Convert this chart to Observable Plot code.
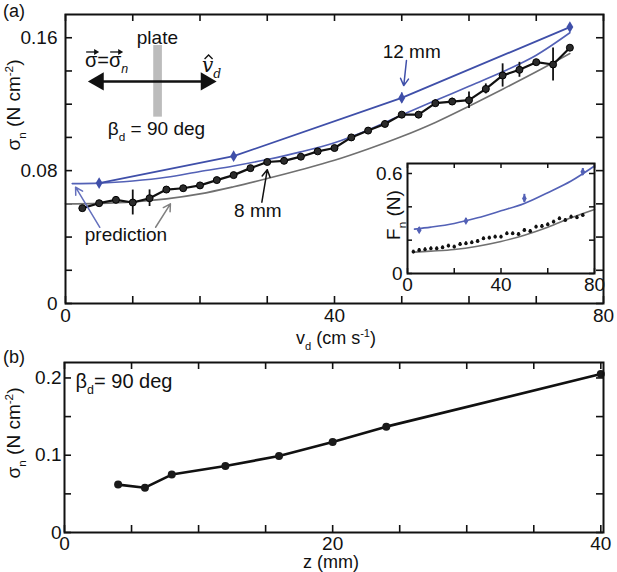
<!DOCTYPE html>
<html><head><meta charset="utf-8">
<script src="https://cdn.jsdelivr.net/npm/d3@7"></script>
<script src="https://cdn.jsdelivr.net/npm/@observablehq/plot@0.6"></script>
<style>
html,body{margin:0;padding:0;background:#fff;}
#fig{position:relative;width:617px;height:572px;overflow:hidden;background:#fff;}
#fig svg{position:absolute;overflow:visible;}
</style></head><body><div id="fig"></div>
<script>
// ---------------- Panel (a): sigma_n vs drag speed ----------------
const v8mm = [2.5,5,7.5,10,12.5,15,17.5,20,22.5,25,27.5,30,32.5,35,37.5,40,42.5,45,47.5,50,52.5,55,57.5,60,62.5,65,67.5,70,72.5,75];
const sigma8mm = [0.0574,0.0604,0.0624,0.0608,0.0634,0.0686,0.0694,0.0711,0.0743,0.0773,0.0815,0.0852,0.0859,0.0884,0.0916,0.0936,0.1000,0.1041,0.1081,0.1137,0.1137,0.1206,0.1216,0.1224,0.1292,0.1373,0.1407,0.1453,0.1439,0.1540];
const err8mm = [0.001,0.001,0.002,0.0075,0.005,0.001,0.001,0.001,0.001,0.001,0.001,0.001,0.001,0.001,0.001,0.001,0.001,0.001,0.001,0.001,0.0015,0.002,0.002,0.005,0.003,0.007,0.0045,0.0015,0.01,0.001];
const v12mm = [5,25,50,75];
const sigma12mm = [0.0725,0.0887,0.1238,0.1664];
const err12mm = [0.0015,0.0012,0.003,0.002];
const vPred12 = [1,5,10,15,20,25,30,35,40,45,50,55,60,65,70,75];
const pred12mm = [0.0722,0.0725,0.0738,0.0760,0.0795,0.0828,0.0867,0.0913,0.0968,0.1045,0.1135,0.1222,0.1308,0.1395,0.1495,0.1630];
const vPred8 = [0,5,10,15,20,25,30,35,40,45,50,55,60,65,70,75];
const pred8mm = [0.0600,0.0603,0.0612,0.0630,0.0660,0.0703,0.0752,0.0805,0.0862,0.0930,0.1005,0.1090,0.1188,0.1290,0.1395,0.1505];
const xTicksA = [0,10,20,30,40,50,60,70,80];
const xLabelsA = [0,40,80];
const yTicksA = [0,0.02,0.04,0.06,0.08,0.1,0.12,0.14,0.16];
const yLabelsA = [0,0.08,0.16];

// ---------------- Inset: F_n vs drag speed ----------------
const vInset8 = [2.5,5,7.5,10,12.5,15,17.5,20,22.5,25,27.5,30,32.5,35,37.5,40,42.5,45,47.5,50,52.5,55,57.5,60,62.5,65,67.5,70,72.5,75];
const fInset8 = [0.13,0.14,0.144,0.15,0.15,0.156,0.166,0.16,0.176,0.18,0.186,0.194,0.21,0.214,0.22,0.22,0.24,0.24,0.236,0.26,0.254,0.28,0.284,0.294,0.31,0.33,0.32,0.34,0.336,0.35];
const vInset12 = [5,25,50,75];
const fInset12 = [0.26,0.315,0.45,0.61];
const errInset12 = [0.015,0.015,0.025,0.02];
const vInsetPred = [3,10,20,30,40,50,60,70,80];
const fInsetPred12 = [0.266,0.278,0.300,0.334,0.376,0.420,0.485,0.555,0.645];
const fInsetPred8 = [0.128,0.134,0.144,0.164,0.192,0.230,0.278,0.334,0.384];
const xTicksI = [0,20,40,60,80];
const xLabelsI = [0,40,80];
const yTicksI = [0,0.2,0.4,0.6];
const yLabelsI = [0,0.6];

// ---------------- Panel (b): sigma_n vs depth ----------------
const zDepth = [4,6,8,12,16,20,24,40];
const sigmaDepth = [0.062,0.058,0.075,0.086,0.099,0.117,0.137,0.205];
const xTicksB = [0,5,10,15,20,25,30,35,40];
const xLabelsB = [0,20,40];
const yTicksB = [0,0.05,0.1,0.15,0.2];
const yLabelsB = [0,0.1,0.2];

// ---------------- annotations (data units) ----------------
const plateBar = [{x1:13.12, x2:14.41, y1:0.1122, y2:0.1553}];
const dirLine = [{x1:4.9, x2:20.9, y:0.1337}];
const dirHeadL = [{x:4.9, y:0.1337}];
const dirHeadR = [{x:20.9, y:0.1337}];
const arrow12 = [{x1:50.7, y1:0.1463, x2:50.3, y2:0.1312}];
const arrow8 = [{x1:29.2, y1:0.0610, x2:30.0, y2:0.0805}];
const arrowPredBlue = [{x1:5.1, y1:0.0459, x2:1.5, y2:0.0700}];
const arrowPredGray = [{x1:13.4, y1:0.0459, x2:15.6, y2:0.0600}];

const FONT = "'Liberation Sans', Arial, Helvetica, sans-serif";
const FS = 19;
const INK = "#111";
const BLUE = "#3f4fa9";
const BLUE2 = "#5361b6";
const GRAY = "#707070";
const fmt = d => d === 0 ? "0" : String(d);

const rows8 = v8mm.map((v,i) => ({v, s: sigma8mm[i], e: err8mm[i]}));
const rows12 = v12mm.map((v,i) => ({v, s: sigma12mm[i], e: err12mm[i]}));
const rowsP12 = vPred12.map((v,i) => ({v, s: pred12mm[i]}));
const rowsP8 = vPred8.map((v,i) => ({v, s: pred8mm[i]}));
const rowsI8 = vInset8.map((v,i) => ({v, f: fInset8[i]}));
const rowsI12 = vInset12.map((v,i) => ({v, f: fInset12[i], e: errInset12[i]}));
const rowsIP12 = vInsetPred.map((v,i) => ({v, f: fInsetPred12[i]}));
const rowsIP8 = vInsetPred.map((v,i) => ({v, f: fInsetPred8[i]}));
const rowsB = zDepth.map((z,i) => ({z, s: sigmaDepth[i]}));

function inTicks(xt, yt, W, H, ml, mr, mt, mb, len, sw) {
  const pw = W - ml - mr, ph = H - mt - mb;
  const o = {stroke: INK, strokeWidth: sw};
  return [
    Plot.tickX(xt, {x: d => d, insetTop: ph - len, ...o}),
    Plot.tickX(xt, {x: d => d, insetBottom: ph - len, ...o}),
    Plot.tickY(yt, {y: d => d, insetRight: pw - len, ...o}),
    Plot.tickY(yt, {y: d => d, insetLeft: pw - len, ...o})
  ];
}

function rich(svg, px, py, parts, o = {}) {
  const size = o.size || FS;
  const t = d3.select(svg).append("text")
    .attr("font-family", o.family || FONT).attr("font-size", size)
    .attr("fill", o.fill || INK)
    .attr("text-anchor", o.anchor || "start")
    .attr("transform", `translate(${px},${py})` + (o.rotate ? ` rotate(${o.rotate})` : ""));
  let shift = 0;
  for (const p of parts) {
    const s = p.sub ? size * 0.32 : p.sup ? -size * 0.38 : 0;
    const ts = t.append("tspan").text(p.t).attr("dy", s - shift);
    if (p.sub || p.sup) ts.attr("font-size", size * 0.62);
    if (p.italic) ts.attr("font-style", "italic");
    if (p.family) ts.attr("font-family", p.family);
    shift = s;
  }
  return t;
}

// small vector arrow (drawn as a path) above a glyph
function vecArrow(svg, cx, y, half) {
  const g = d3.select(svg);
  g.append("path").attr("d", `M${cx - half},${y}H${cx + half - 2}`)
    .attr("stroke", INK).attr("stroke-width", 1.3).attr("fill", "none");
  g.append("path").attr("d", `M${cx + half + 1},${y}L${cx + half - 4},${y - 3}L${cx + half - 4},${y + 3}Z`)
    .attr("fill", INK);
}

const fig = document.getElementById("fig");

// ----- Panel A -----
const A_W = 617, A_H = 345, A_ml = 65, A_mr = 14, A_mt = 14, A_mb = 42;
const A = Plot.plot({
  width: A_W, height: A_H,
  marginLeft: A_ml, marginRight: A_mr, marginTop: A_mt, marginBottom: A_mb,
  style: {background: "transparent", overflow: "visible", fontFamily: FONT},
  x: {domain: [0, 80]},
  y: {domain: [0, 0.174]},
  marks: [
    Plot.axisX({ticks: xLabelsA, tickSize: 0, tickPadding: 5, label: null, fontSize: FS, fill: INK}),
    Plot.axisY({ticks: yLabelsA, tickSize: 0, tickPadding: 8, label: null, fontSize: FS, fill: INK, tickFormat: fmt}),
    ...inTicks(xTicksA, yTicksA, A_W, A_H, A_ml, A_mr, A_mt, A_mb, 7, 1.6),
    Plot.rect(plateBar, {x1: "x1", x2: "x2", y1: "y1", y2: "y2", fill: "#bcbcbc"}),
    Plot.link(dirLine, {x1: "x1", x2: "x2", y1: "y", y2: "y", stroke: INK, strokeWidth: 2.4}),
    Plot.dot(dirHeadL, {x: "x", y: "y", symbol: "triangle", r: 6.8, fill: INK, rotate: -90}),
    Plot.dot(dirHeadR, {x: "x", y: "y", symbol: "triangle", r: 6.8, fill: INK, rotate: 90}),
    Plot.line(rowsP8, {x: "v", y: "s", stroke: GRAY, strokeWidth: 1.6, curve: "monotone-x"}),
    Plot.line(rowsP12, {x: "v", y: "s", stroke: BLUE2, strokeWidth: 1.6, curve: "monotone-x"}),
    Plot.line(rows12, {x: "v", y: "s", stroke: BLUE, strokeWidth: 1.8}),
    Plot.ruleX(rows12, {x: "v", y1: d => d.s - d.e, y2: d => d.s + d.e, stroke: BLUE, strokeWidth: 1.6}),
    Plot.dot(rows12, {x: "v", y: "s", symbol: "diamond", r: 3.6, fill: BLUE}),
    Plot.line(rows8, {x: "v", y: "s", stroke: INK, strokeWidth: 2.2}),
    Plot.ruleX(rows8, {x: "v", y1: d => d.s - d.e, y2: d => d.s + d.e, stroke: INK, strokeWidth: 1.8}),
    Plot.dot(rows8, {x: "v", y: "s", r: 3.5, fill: "#2b2b2b", stroke: "#000", strokeWidth: 1}),
    Plot.arrow(arrow12, {x1: "x1", y1: "y1", x2: "x2", y2: "y2", stroke: BLUE, strokeWidth: 1.5, headLength: 8}),
    Plot.arrow(arrow8, {x1: "x1", y1: "y1", x2: "x2", y2: "y2", stroke: INK, strokeWidth: 1.5, headLength: 8}),
    Plot.arrow(arrowPredBlue, {x1: "x1", y1: "y1", x2: "x2", y2: "y2", stroke: "#6470bd", strokeWidth: 1.5, headLength: 8}),
    Plot.arrow(arrowPredGray, {x1: "x1", y1: "y1", x2: "x2", y2: "y2", stroke: "#808080", strokeWidth: 1.5, headLength: 8}),
    Plot.frame({stroke: INK, strokeWidth: 2})
  ]
});
A.style.left = "0px"; A.style.top = "0px";
fig.appendChild(A);
{
  const sx = A.scale("x"), sy = A.scale("y");
  const X = v => sx.apply(v), Y = v => sy.apply(v);
  rich(A, 3, 17, [{t: "(a)"}], {size: 18});
  rich(A, 20, 105, [{t: "σ"}, {t: "n", sub: true}, {t: " (N cm"}, {t: "-2", sup: true}, {t: ")"}], {anchor: "middle", rotate: -90});
  rich(A, 336, 344, [{t: "v"}, {t: "d", sub: true}, {t: " (cm s"}, {t: "-1", sup: true}, {t: ")"}], {anchor: "middle", size: 18});
  rich(A, X(13.74), Y(0.1560), [{t: "plate"}], {anchor: "middle"});
  // sigma = sigma_n with vector arrows (arrows drawn as paths)
  const sg = rich(A, X(2.97), Y(0.1421), [{t: "σ=σ"}, {t: "n", sub: true, italic: true}], {size: 20});
  const tnode = sg.node();
  const base = X(2.97);
  for (const i of [0, 2]) {
    const a = tnode.getStartPositionOfChar(i), b = tnode.getEndPositionOfChar(i);
    vecArrow(A, base + (a.x + b.x) / 2 + 1, Y(0.1421) - 15, 6);
  }
  const vt = rich(A, X(20.36), Y(0.1391), [{t: "v", italic: true}, {t: "d", sub: true, italic: true}], {size: 20, family: "'DejaVu Serif', serif"});
  {
    const a = vt.node().getStartPositionOfChar(0), b = vt.node().getEndPositionOfChar(0);
    const cx = X(20.36) + (a.x + b.x) / 2 + 1, hy = Y(0.1391) - 17;
    d3.select(A).append("path").attr("d", `M${cx - 4},${hy + 4}L${cx},${hy}L${cx + 4},${hy + 4}`)
      .attr("stroke", INK).attr("stroke-width", 1.3).attr("fill", "none");
  }
  rich(A, X(13.6), Y(0.1011), [{t: "β"}, {t: "d", sub: true}, {t: " = 90 deg"}], {anchor: "middle"});
  rich(A, X(51.56), Y(0.1475), [{t: "12 mm"}], {anchor: "middle"});
  rich(A, X(28.68), Y(0.0518), [{t: "8 mm"}], {anchor: "middle"});
  rich(A, X(9.06), Y(0.0373), [{t: "prediction"}], {anchor: "middle"});
}

// ----- Inset -----
const I_W = 250, I_H = 150, I_ml = 47, I_mr = 16, I_mt = 13, I_mb = 27;
const I = Plot.plot({
  width: I_W, height: I_H,
  marginLeft: I_ml, marginRight: I_mr, marginTop: I_mt, marginBottom: I_mb,
  style: {background: "transparent", overflow: "visible", fontFamily: FONT},
  x: {domain: [0, 80]},
  y: {domain: [0, 0.66]},
  marks: [
    Plot.frame({fill: "white", stroke: "none"}),
    Plot.axisX({ticks: xLabelsI, tickSize: 0, tickPadding: 4, label: null, fontSize: FS, fill: INK}),
    Plot.axisY({ticks: yLabelsI, tickSize: 0, tickPadding: 5, label: null, fontSize: FS, fill: INK, tickFormat: fmt}),
    ...inTicks(xTicksI, yTicksI, I_W, I_H, I_ml, I_mr, I_mt, I_mb, 5, 1.5),
    Plot.line(rowsIP8, {x: "v", y: "f", stroke: GRAY, strokeWidth: 1.6, curve: "monotone-x"}),
    Plot.line(rowsIP12, {x: "v", y: "f", stroke: BLUE2, strokeWidth: 1.6, curve: "monotone-x"}),
    Plot.ruleX(rowsI12, {x: "v", y1: d => d.f - d.e, y2: d => d.f + d.e, stroke: BLUE2, strokeWidth: 2}),
    Plot.dot(rowsI12, {x: "v", y: "f", symbol: "diamond", r: 2.5, fill: BLUE2}),
    Plot.ruleX(rowsI8, {x: "v", y1: d => d.f - 0.01, y2: d => d.f + 0.01, stroke: INK, strokeWidth: 1.8}),
    Plot.dot(rowsI8, {x: "v", y: "f", r: 1.8, fill: INK}),
    Plot.frame({stroke: INK, strokeWidth: 2})
  ]
});
I.style.left = "360px"; I.style.top = "150px";
fig.appendChild(I);
rich(I, 40, 65, [{t: "F"}, {t: "n", sub: true}, {t: " (N)"}], {anchor: "middle", rotate: -90});

// ----- Panel B -----
const B_W = 617, B_H = 227, B_ml = 64, B_mr = 14, B_mt = 17, B_mb = 40;
const B = Plot.plot({
  width: B_W, height: B_H,
  marginLeft: B_ml, marginRight: B_mr, marginTop: B_mt, marginBottom: B_mb,
  style: {background: "transparent", overflow: "visible", fontFamily: FONT},
  x: {domain: [0, 40.2]},
  y: {domain: [0, 0.22]},
  marks: [
    Plot.axisX({ticks: xLabelsB, tickSize: 0, tickPadding: 4, label: null, fontSize: FS, fill: INK}),
    Plot.axisY({ticks: yLabelsB, tickSize: 0, tickPadding: 3, label: null, fontSize: FS, fill: INK, tickFormat: fmt}),
    ...inTicks(xTicksB, yTicksB, B_W, B_H, B_ml, B_mr, B_mt, B_mb, 7, 1.6),
    Plot.line(rowsB, {x: "z", y: "s", stroke: INK, strokeWidth: 2.6}),
    Plot.dot(rowsB, {x: "z", y: "s", r: 4, fill: "#1a1a1a"}),
    Plot.frame({stroke: INK, strokeWidth: 2})
  ]
});
B.style.left = "0px"; B.style.top = "345px";
fig.appendChild(B);
{
  const sx = B.scale("x"), sy = B.scale("y");
  rich(B, 3, 17.5, [{t: "(b)"}], {size: 18});
  rich(B, 20, 88, [{t: "σ"}, {t: "n", sub: true}, {t: " (N cm"}, {t: "-2", sup: true}, {t: ")"}], {anchor: "middle", rotate: -90});
  rich(B, 331, 223, [{t: "z (mm)"}], {anchor: "middle", size: 18});
  rich(B, sx.apply(0.865), sy.apply(0.1866), [{t: "β"}, {t: "d", sub: true}, {t: "= 90 deg"}], {size: 20});
}
</script></body></html>
